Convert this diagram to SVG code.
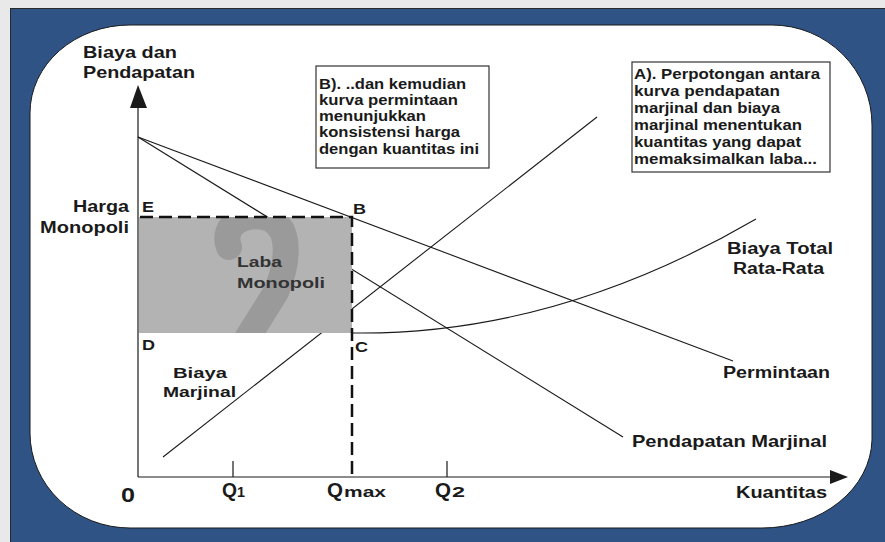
<svg xmlns="http://www.w3.org/2000/svg" width="885" height="542" viewBox="0 0 885 542">
  <style>
    text { font-family: "Liberation Sans", Arial, sans-serif; font-weight: bold; fill: #1a1a1a; }
    .lbl { font-size: 16px; }
    .big { font-size: 17px; }
    .pt { font-size: 15px; }
    .note { font-size: 14px; }
    .inner { font-size: 15px; fill: #333; }
    .q { font-size: 20px; }
    .sub { font-size: 15px; }
    .curve { fill: none; stroke: #1a1a1a; stroke-width: 1.1; }
    .axis { fill: none; stroke: #1a1a1a; stroke-width: 1.2; }
    .dash { fill: none; stroke: #111; stroke-width: 2.5; stroke-dasharray: 13 6; }
    .box { fill: #ffffff; stroke: #333; stroke-width: 1.2; }
  </style>
  <defs>
    <clipPath id="profit-clip">
      <rect x="139" y="217" width="213" height="116"/>
    </clipPath>
  </defs>

  <!-- frame -->
  <g id="frame">
    <rect x="0" y="0" width="885" height="542" fill="#e9e9e9"/>
    <rect x="10.5" y="8.5" width="880" height="540" fill="#2f5384" stroke="#2a2a2a" stroke-width="1"/>
    <path d="M130,25 H772 A100,100 0 0 1 872,125 V440 A110,90 0 0 1 762,528 H130 A100,95 0 0 1 30,433 V113 A100,88 0 0 1 130,25 Z" fill="#ffffff" stroke="#1a1a1a" stroke-width="1"/>
  </g>

  <!-- curves and axes -->
  <g id="connectors">
    <path class="curve" d="M138,137 L733,361"/>
    <path class="curve" d="M138,137 L623,437"/>
    <path class="curve" d="M163,457 L597,117"/>
    <path class="curve" d="M352,333 Q555,336 756,219"/>
    <path class="axis" d="M138,477 V106"/>
    <path class="axis" d="M138,477 H832"/>
    <polygon points="138,85 130,108 147,108" fill="#1a1a1a"/>
    <polygon points="848,477 830,470 830,484" fill="#1a1a1a"/>
    <path class="axis" d="M233,461 V477 M447,461 V477"/>
  </g>

  <!-- profit area -->
  <g id="profit">
    <rect x="139" y="217" width="213" height="116" fill="#b3b3b3"/>
    <path d="M229,247 C220,224 248,210 270,219 C293,230 287,266 276,292 L246,340" fill="none" stroke="#9a9a9a" stroke-width="26" stroke-linecap="round" clip-path="url(#profit-clip)"/>
    <path class="dash" d="M140,217 H352 V477"/>
    <text class="inner" x="237" y="267" textLength="45" lengthAdjust="spacingAndGlyphs">Laba</text>
    <text class="inner" x="237" y="288" textLength="88" lengthAdjust="spacingAndGlyphs">Monopoli</text>
  </g>

  <!-- point letters -->
  <g id="points">
    <text class="pt" x="142" y="212" textLength="12" lengthAdjust="spacingAndGlyphs">E</text>
    <text class="pt" x="353" y="214" textLength="13" lengthAdjust="spacingAndGlyphs">B</text>
    <text class="pt" x="142" y="350" textLength="13" lengthAdjust="spacingAndGlyphs">D</text>
    <text class="pt" x="355" y="352" textLength="13" lengthAdjust="spacingAndGlyphs">C</text>
  </g>

  <!-- axis titles -->
  <g id="axis-y-title">
    <text class="big" x="83" y="58" textLength="94" lengthAdjust="spacingAndGlyphs">Biaya dan</text>
    <text class="big" x="83" y="78" textLength="112" lengthAdjust="spacingAndGlyphs">Pendapatan</text>
  </g>
  <g id="axis-x-title">
    <text class="lbl" x="736" y="498" textLength="91" lengthAdjust="spacingAndGlyphs">Kuantitas</text>
  </g>
  <g id="price-label">
    <text class="lbl" x="73" y="212" textLength="56" lengthAdjust="spacingAndGlyphs">Harga</text>
    <text class="lbl" x="40" y="233" textLength="89" lengthAdjust="spacingAndGlyphs">Monopoli</text>
  </g>

  <!-- quantity labels -->
  <g id="q-labels">
    <text class="q" x="121" y="502" textLength="14" lengthAdjust="spacingAndGlyphs">0</text>
    <text class="q" x="222" y="497" textLength="15" lengthAdjust="spacingAndGlyphs">Q</text>
    <text class="sub" x="237" y="497" textLength="8" lengthAdjust="spacingAndGlyphs">1</text>
    <text class="q" x="327" y="497" textLength="16" lengthAdjust="spacingAndGlyphs">Q</text>
    <text class="sub" x="344" y="497" textLength="42" lengthAdjust="spacingAndGlyphs">max</text>
    <text class="q" x="435" y="497" textLength="16" lengthAdjust="spacingAndGlyphs">Q</text>
    <text class="sub" x="452" y="497" textLength="13" lengthAdjust="spacingAndGlyphs">2</text>
  </g>

  <!-- curve names -->
  <g id="mc-label">
    <text class="pt" x="173" y="378" textLength="54" lengthAdjust="spacingAndGlyphs">Biaya</text>
    <text class="pt" x="163" y="397" textLength="73" lengthAdjust="spacingAndGlyphs">Marjinal</text>
  </g>
  <g id="atc-label">
    <text class="lbl" x="727" y="254" textLength="106" lengthAdjust="spacingAndGlyphs">Biaya Total</text>
    <text class="lbl" x="733" y="274" textLength="91" lengthAdjust="spacingAndGlyphs">Rata-Rata</text>
  </g>
  <g id="demand-label">
    <text class="lbl" x="723" y="378" textLength="107" lengthAdjust="spacingAndGlyphs">Permintaan</text>
  </g>
  <g id="mr-label">
    <text class="big" x="632" y="447" textLength="195" lengthAdjust="spacingAndGlyphs">Pendapatan Marjinal</text>
  </g>

  <!-- note B -->
  <g id="note-b">
    <rect class="box" x="316" y="66" width="173" height="102"/>
    <text class="note" x="319" y="89" textLength="147" lengthAdjust="spacingAndGlyphs">B). ..dan kemudian</text>
    <text class="note" x="319" y="105" textLength="139" lengthAdjust="spacingAndGlyphs">kurva permintaan</text>
    <text class="note" x="319" y="121" textLength="107" lengthAdjust="spacingAndGlyphs">menunjukkan</text>
    <text class="note" x="319" y="137" textLength="141" lengthAdjust="spacingAndGlyphs">konsistensi harga</text>
    <text class="note" x="319" y="154" textLength="160" lengthAdjust="spacingAndGlyphs">dengan kuantitas ini</text>
  </g>

  <!-- note A -->
  <g id="note-a">
    <rect class="box" x="632" y="62" width="198" height="110"/>
    <text class="note" x="634" y="79" textLength="186" lengthAdjust="spacingAndGlyphs">A). Perpotongan antara</text>
    <text class="note" x="634" y="96" textLength="146" lengthAdjust="spacingAndGlyphs">kurva pendapatan</text>
    <text class="note" x="634" y="113" textLength="146" lengthAdjust="spacingAndGlyphs">marjinal dan biaya</text>
    <text class="note" x="634" y="130" textLength="168" lengthAdjust="spacingAndGlyphs">marjinal menentukan</text>
    <text class="note" x="634" y="147" textLength="167" lengthAdjust="spacingAndGlyphs">kuantitas yang dapat</text>
    <text class="note" x="634" y="164" textLength="183" lengthAdjust="spacingAndGlyphs">memaksimalkan laba...</text>
  </g>
</svg>
